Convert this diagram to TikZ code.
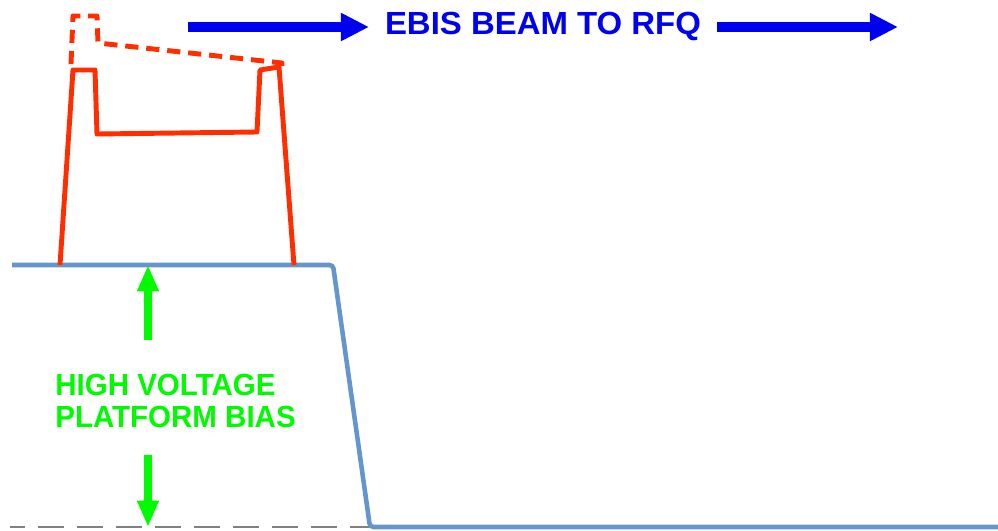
\documentclass[tikz,border=0pt]{standalone}
\usepackage{fontspec}
\setmainfont{Liberation Sans}
\usepackage{xcolor}
\usetikzlibrary{arrows.meta, positioning}
\definecolor{beamblue}{RGB}{0,0,240}
\definecolor{platblue}{RGB}{100,150,205}
\definecolor{pulsered}{RGB}{255,45,0}
\definecolor{biasgreen}{RGB}{0,250,0}

\begin{document}
\begin{tikzpicture}[x=0.02cm, y=-0.02cm,
  every node/.style={font=\fontsize{17.4}{18.2}\selectfont\bfseries, inner sep=0pt},
  platform/.style={draw=platblue, line width=2.6pt, rounded corners=2pt},
  ground/.style={draw=gray, line width=1.7pt, dash pattern=on 15pt off 7.2pt, dash phase=6.5pt},
  pulse/.style={draw=pulsered, line width=2.8pt, line join=round},
  pulsedash/.style={pulse, dash pattern=on 7.5pt off 4.5pt},
  beamarr/.style={beamblue, line width=5.6pt, -{Triangle[length=16pt, width=15pt]}},
  biasarr/.style={biasgreen, line width=4.5pt, -{Triangle[length=15pt, width=11.5pt]}}
]
  \useasboundingbox (0,0) rectangle (998,531);

  % title with beam arrows
  \node[text=beamblue, font=\fontsize{18.2}{19}\selectfont\bfseries, xscale=1.03]
    (title) at (543,26) {EBIS BEAM TO RFQ};
  \coordinate (b1s) at (188,27);
  \coordinate (b1e) at (369,27);
  \coordinate (b2s) at (717,27);
  \coordinate (b2e) at (898,27);
  \draw[beamarr] (b1s) -- (b1e);
  \draw[beamarr] (b2s) -- (b2e);

  % ground and platform potential
  \coordinate (gl) at (10,527);
  \coordinate (gr) at (370,527);
  \draw[ground] (gl) -- (gr);
  \draw[platform] (12,265) -- (333,265) -- (370,527) -- (998,527);

  % extracted pulse
  \draw[pulse] (60,265) -- (73,70) -- (95,70) -- (97,134) -- (257,132)
    -- (260,70) -- (279,67) -- (294,265);
  \draw[pulsedash] (71,64) -- (73,16) -- (97,16) -- (98,43) -- (282,63) -- (282,68);

  % platform bias
  \node[text=biasgreen, align=left, anchor=west, xscale=0.965] (bias) at (55,401)
    {HIGH VOLTAGE\\PLATFORM BIAS};
  \coordinate (up1) at (148,340);
  \coordinate (up2) at (148,265);
  \coordinate (dn1) at (148,455);
  \coordinate (dn2) at (148,527);
  \draw[biasarr] (up1) -- (up2);
  \draw[biasarr] (dn1) -- (dn2);
\end{tikzpicture}
\end{document}
